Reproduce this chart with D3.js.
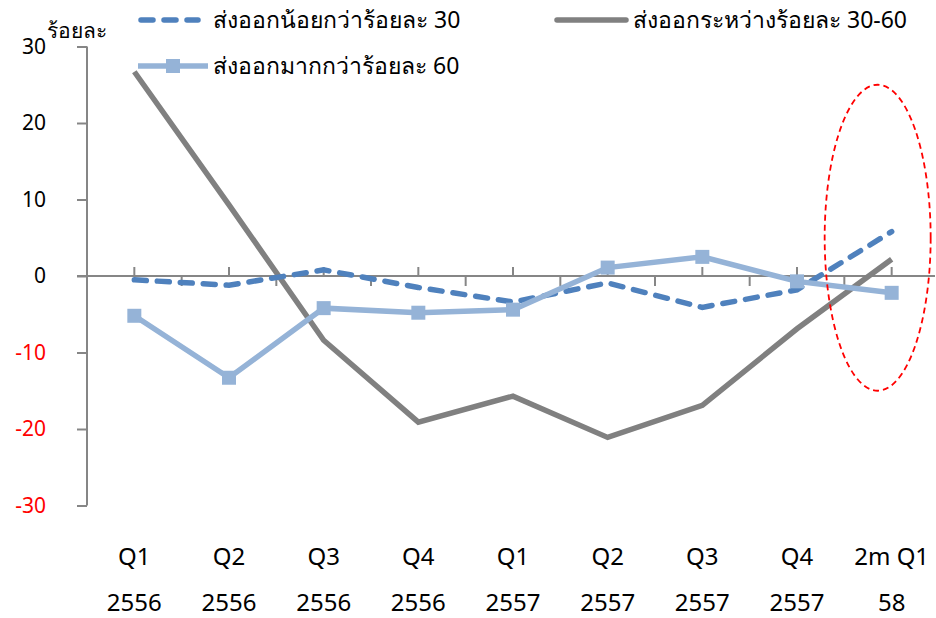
<!DOCTYPE html>
<html>
<head>
<meta charset="utf-8">
<script src="https://cdn.jsdelivr.net/npm/d3@7"></script>
<style>
  body { margin: 0; background: #fff; }
  text { font-family: "Noto Sans", "DejaVu Sans", sans-serif; }
</style>
</head>
<body>
<div id="chart"></div>
<script>
// categories (two line labels)
let cats = ["Q1 2556", "Q2 2556", "Q3 2556", "Q4 2556", "Q1 2557", "Q2 2557", "Q3 2557", "Q4 2557", "2m Q1 58"];
let catLine1 = ["Q1", "Q2", "Q3", "Q4", "Q1", "Q2", "Q3", "Q4", "2m Q1"];
let catLine2 = ["2556", "2556", "2556", "2556", "2557", "2557", "2557", "2557", "58"];

// series values (%)
let lowShare = [-0.5, -1.2, 0.8, -1.5, -3.4, -0.9, -4.1, -1.8, 5.8];
let midShare = [26.7, 9.3, -8.4, -19.1, -15.7, -21.1, -16.9, -6.9, 2.2];
let highShare = [-5.2, -13.3, -4.2, -4.8, -4.4, 1.1, 2.5, -0.7, -2.2];

let yTicks = [30, 20, 10, 0, -10, -20, -30];

let svgWidth = 936;
let svgHeight = 618;
let margin = { top: 47, right: 0, bottom: 113, left: 87 };

let x = d3.scaleBand()
    .domain(cats)
    .range([margin.left, 939]);

let y = d3.scaleLinear()
    .domain([-30, 30])
    .range([svgHeight - margin.bottom + 0.5, margin.top - 0.5]);

let cx = d => x(d) + x.bandwidth() / 2;

let svg = d3.select('#chart')
    .append('svg')
    .attr('width', svgWidth)
    .attr('height', svgHeight);

let axisColor = '#868686';

// y axis
let yAxis = d3.axisLeft(y).tickValues(yTicks).tickSize(10).tickFormat('');
let gy = svg.append('g')
    .attr('transform', `translate(${margin.left},0)`)
    .call(yAxis);
gy.select('.domain').remove();
gy.selectAll('.tick line').attr('stroke', axisColor).attr('stroke-width', 2);
gy.append('line')
    .attr('x1', 0).attr('x2', 0)
    .attr('y1', y(30)).attr('y2', y(-30))
    .attr('stroke', axisColor).attr('stroke-width', 2);

svg.selectAll('.ylab')
    .data(yTicks)
    .enter()
    .append('text')
    .attr('class', 'ylab')
    .attr('x', 46)
    .attr('y', d => y(d))
    .attr('dy', '0.35em')
    .attr('text-anchor', 'end')
    .attr('font-size', 21)
    .attr('fill', d => d < 0 ? '#ff0000' : '#000')
    .text(d => d);

svg.append('text')
    .attr('x', 47)
    .attr('y', 31)
    .attr('dy', '0.35em')
    .attr('font-size', 21)
    .text('ร้อยละ');

// zero line with ticks
svg.append('line')
    .attr('x1', margin.left - 10).attr('x2', 935)
    .attr('y1', y(0)).attr('y2', y(0))
    .attr('stroke', axisColor).attr('stroke-width', 2);

svg.selectAll('.tickUp')
    .data(cats)
    .enter()
    .append('line')
    .attr('x1', d => cx(d)).attr('x2', d => cx(d))
    .attr('y1', y(0)).attr('y2', y(0) - 9)
    .attr('stroke', axisColor).attr('stroke-width', 2);

svg.selectAll('.tickDown')
    .data(cats)
    .enter()
    .append('line')
    .attr('x1', d => x(d) + x.bandwidth()).attr('x2', d => x(d) + x.bandwidth())
    .attr('y1', y(0)).attr('y2', y(0) + 10)
    .attr('stroke', axisColor).attr('stroke-width', 2);

// category labels
svg.selectAll('.xlab1')
    .data(cats)
    .enter()
    .append('text')
    .attr('x', d => cx(d))
    .attr('y', 565)
    .attr('text-anchor', 'middle')
    .attr('font-size', 24)
    .text((d, i) => catLine1[i]);

svg.selectAll('.xlab2')
    .data(cats)
    .enter()
    .append('text')
    .attr('x', d => cx(d))
    .attr('y', 611)
    .attr('text-anchor', 'middle')
    .attr('font-size', 24)
    .text((d, i) => catLine2[i]);

let line = d3.line()
    .x((d, i) => cx(cats[i]))
    .y(d => y(d));

// gray line
svg.append('path')
    .datum(midShare)
    .attr('d', line)
    .attr('fill', 'none')
    .attr('stroke', '#808080')
    .attr('stroke-width', 5.5);

// dashed blue
svg.append('path')
    .datum(lowShare)
    .attr('d', line)
    .attr('fill', 'none')
    .attr('stroke', '#4f81bd')
    .attr('stroke-width', 5.5)
    .attr('stroke-linecap', 'round')
    .attr('stroke-dasharray', '12,11');

// light blue with squares
svg.append('path')
    .datum(highShare)
    .attr('d', line)
    .attr('fill', 'none')
    .attr('stroke', '#95b3d7')
    .attr('stroke-width', 5.5);

svg.selectAll('.sq')
    .data(highShare)
    .enter()
    .append('rect')
    .attr('x', (d, i) => cx(cats[i]) - 7)
    .attr('y', d => y(d) - 7)
    .attr('width', 14)
    .attr('height', 14)
    .attr('fill', '#95b3d7');

// red dashed ellipse annotation
let lastCat = cats[cats.length - 1];
svg.append('ellipse')
    .attr('cx', cx(lastCat) - 14)
    .attr('cy', (y(25) + y(-15)) / 2)
    .attr('rx', 53)
    .attr('ry', (y(-15) - y(25)) / 2)
    .attr('fill', 'none')
    .attr('stroke', '#ff0000')
    .attr('stroke-width', 1.8)
    .attr('stroke-dasharray', '6,4');

// legend
let leg = svg.append('g');
leg.append('line')
    .attr('x1', 141).attr('x2', 198).attr('y1', 20).attr('y2', 20)
    .attr('stroke', '#4f81bd').attr('stroke-width', 5.5)
    .attr('stroke-linecap', 'round').attr('stroke-dasharray', '12,11');
leg.append('text')
    .attr('x', 213).attr('y', 20).attr('dy', '0.35em')
    .attr('font-size', 23)
    .text('ส่งออกน้อยกว่าร้อยละ 30');

leg.append('line')
    .attr('x1', 138).attr('x2', 208).attr('y1', 66).attr('y2', 66)
    .attr('stroke', '#95b3d7').attr('stroke-width', 5.5);
leg.append('rect')
    .attr('x', 166).attr('y', 59).attr('width', 14).attr('height', 14)
    .attr('fill', '#95b3d7');
leg.append('text')
    .attr('x', 213).attr('y', 66).attr('dy', '0.35em')
    .attr('font-size', 23)
    .text('ส่งออกมากกว่าร้อยละ 60');

leg.append('line')
    .attr('x1', 557).attr('x2', 626).attr('y1', 20).attr('y2', 20)
    .attr('stroke', '#808080').attr('stroke-width', 5.5)
    .attr('stroke-linecap', 'round');
leg.append('text')
    .attr('x', 633).attr('y', 20).attr('dy', '0.35em')
    .attr('font-size', 23)
    .text('ส่งออกระหว่างร้อยละ 30-60');
</script>
</body>
</html>
